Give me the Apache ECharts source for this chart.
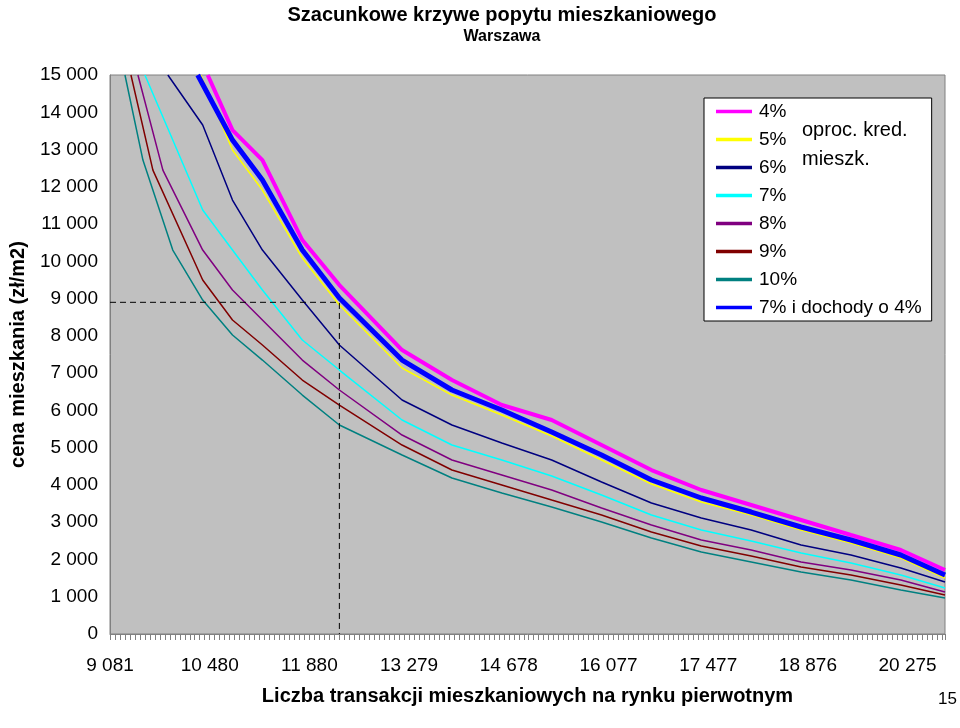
<!DOCTYPE html>
<html><head><meta charset="utf-8">
<script src="https://cdn.jsdelivr.net/npm/echarts@6/dist/echarts.min.js"></script>
<style>html,body{margin:0;background:#fff}#c{width:960px;height:728px}</style>
</head><body><div id="c"></div>
<script>
const xTickLabels = ['9 081','10 480','11 880','13 279','14 678','16 077','17 477','18 876','20 275'];
const xGrid = [10800,11220,11780,12300,13180,13880,14580,15280,15980,16680,17380,18080,18780,19480,20180,20800];
const names = ['4%','5%','6%','7%','8%','9%','10%','7% i dochody o 4%'];
const colors = ['#FF00FF','#FFFF00','#000080','#00FFFF','#800080','#800000','#008080','#0000FF'];
const widths = [4,1.5,1.5,1.5,1.5,1.5,1.5,5];
const head = [
  [[10452,15000]],
  [[10354,15000]],
  [[9893,15000],[10382,13657]],
  [[9571,15000],[9962,13254],[10382,11376]],
  [[9473,15000],[9823,12449],[10382,10303]],
  [[9375,15000],[9683,12449],[10382,9498]],
  [[9291,15000],[9543,12717],[9962,10303],[10382,8961]],
  [[10312,15000]]
];
const vals = [
  [13522,12717,10571,9364,7620,6815,6144,5742,5071,4400,3864,3461,3059,2656,2254,1717],
  [12986,11913,10088,8827,7137,6412,5876,5312,4668,4025,3542,3193,2790,2442,2039,1502],
  [11644,10303,8961,7754,6278,5608,5125,4668,4078,3515,3112,2790,2388,2120,1771,1395],
  [10303,9230,7888,7083,5742,5071,4668,4239,3729,3193,2790,2495,2173,1905,1583,1234],
  [9230,8425,7351,6547,5339,4668,4266,3864,3381,2924,2522,2254,1932,1717,1449,1127],
  [8425,7754,6815,6144,5071,4400,3998,3595,3193,2737,2361,2093,1798,1583,1315,1046],
  [8022,7351,6412,5608,4803,4186,3783,3407,3005,2576,2200,1932,1663,1449,1181,966],
  [13254,12181,10303,9015,7351,6547,6010,5420,4803,4132,3649,3273,2871,2522,2120,1583]
];
const X0 = 9081, STEP = 1399.25, XMAX = 20800;
const refX = 12300, refY = 8900;
const font = 'Liberation Sans Narrow, Liberation Sans, Arial';
const series = names.map((n,i)=>({
  name:n, type:'line', showSymbol:false, symbol:'none', z: i===7||i===0?5:3,
  lineStyle:{color:colors[i],width:widths[i]}, itemStyle:{color:colors[i]},
  data: head[i].map(p=>[p[0]-X0,p[1]]).concat(xGrid.map((x,j)=>[x-X0,vals[i][j]]))
}));
series.push({type:'line',silent:true,symbol:'none',lineStyle:{color:'#000',type:[6,4],width:1},
  data:[[0,refY],[refX-X0,refY],[refX-X0,0]]});
const chart = echarts.init(document.getElementById('c'));
chart.setOption({
  animation:false,
  title:{text:'Szacunkowe krzywe popytu mieszkaniowego',subtext:'Warszawa',left:497,textAlign:'center',top:0,itemGap:4,
    textStyle:{fontFamily:font,fontWeight:'bold',fontSize:20,color:'#000'},
    subtextStyle:{fontFamily:font,fontWeight:'bold',fontSize:16,color:'#000'}},
  grid:{left:99,right:15,top:75,bottom:94,show:true,backgroundColor:'#C0C0C0',borderColor:'#808080',borderWidth:1},
  legend:{orient:'vertical',left:704,top:98,itemGap:9,itemWidth:36,itemHeight:14,
    backgroundColor:'#fff',borderColor:'#000',borderWidth:1,padding:[4,10,4,12],
    data:names.map((n,i)=>({name:n,icon:'path://M0,0H10V1H0Z'})),
    textStyle:{fontFamily:'Liberation Sans, Arial',fontSize:19,color:'#000',padding:[0,0,0,2]}},
  xAxis:{type:'value',min:0,max:XMAX-X0,interval:STEP,
    name:'Liczba transakcji mieszkaniowych na rynku pierwotnym',nameLocation:'middle',nameGap:52,
    nameTextStyle:{fontFamily:font,fontWeight:'bold',fontSize:20,color:'#000'},
    axisLine:{lineStyle:{color:'#808080'}},axisTick:{show:true,length:6,lineStyle:{color:'#808080'}},
    minorTick:{show:true,splitNumber:20,length:6,lineStyle:{color:'#808080'}},
    splitLine:{show:false},
    axisLabel:{margin:22,fontFamily:'Liberation Sans, Arial',fontSize:19,color:'#000',
      formatter:v=>xTickLabels[Math.round(v/STEP)]||''}},
  yAxis:{type:'value',min:0,max:15000,interval:1000,
    name:'cena mieszkania (zł/m2)',nameLocation:'middle',nameGap:82,
    nameTextStyle:{fontFamily:font,fontWeight:'bold',fontSize:20,color:'#000'},
    axisLine:{show:true,lineStyle:{color:'#808080'}},axisTick:{show:false},splitLine:{show:false},
    axisLabel:{fontFamily:'Liberation Sans, Arial',fontSize:19,color:'#000',margin:12,
      formatter:v=>v===0?'0':String(v).replace(/\B(?=(\d{3})+(?!\d))/g,' ')}},
  graphic:[
    {type:'text',left:802,top:116,z:200,style:{text:'oproc. kred.\nmieszk.',fontFamily:'Liberation Sans, Arial',fontSize:20,lineHeight:29,fill:'#000'}},
    {type:'text',left:938,top:691,style:{text:'15',fontFamily:'Liberation Sans, Arial',fontSize:17,fill:'#000'}}
  ],
  series
});
</script></body></html>
